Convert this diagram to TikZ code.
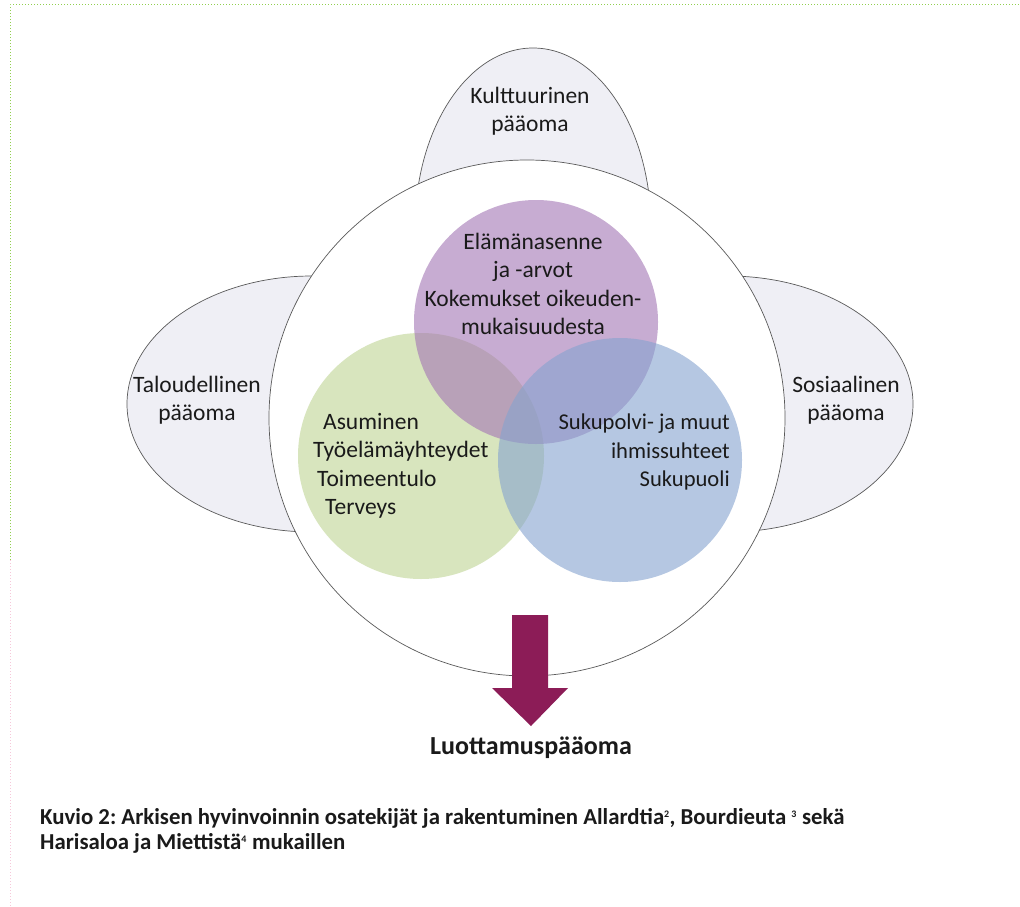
\documentclass[tikz,border=0pt]{standalone}
\usepackage{fontspec}
\setmainfont{Carlito}
\frenchspacing
\definecolor{linegray}{HTML}{5A5A5A}
\definecolor{capfill}{HTML}{EFEFF5}
\definecolor{textc}{HTML}{1A1A1A}
\definecolor{vgreen}{RGB}{190,212,147}
\definecolor{vpurple}{RGB}{163,117,180}
\definecolor{vblue}{RGB}{133,163,207}
\definecolor{arrowc}{HTML}{8C1C57}
\definecolor{bordergreen}{HTML}{92CF50}
\definecolor{borderpink}{HTML}{F6C8DA}
\newcommand{\supnum}[1]{\textsuperscript{\fontsize{10}{10}\selectfont #1}}
\begin{document}
\begin{tikzpicture}[x=1pt,y=-1pt]
\tikzset{
  capital/.style={draw=linegray, fill=capfill, line width=0.7pt},
  venn/.style={fill opacity=0.6},
  vtext/.style={font=\fontsize{23.5}{28.5}\selectfont, text=textc, inner sep=0pt},
}
\useasboundingbox (0,0) rectangle (1020,907);
\fill[white] (0,0) rectangle (1020,907);
% page border
\draw[bordergreen, dotted, line width=1pt] (10,560) -- (10,5) -- (1020,5);
\draw[borderpink, dotted, line width=1pt] (10,560) -- (10,907);
% capital ellipses
\draw[capital] (533,228) ellipse [x radius=118pt, y radius=180pt];
\draw[capital] (312,404) ellipse [x radius=185pt, y radius=128pt];
\draw[capital] (728,404) ellipse [x radius=185pt, y radius=128pt];
% main circle
\draw[draw=linegray, fill=white, line width=0.7pt] (527,418) circle [radius=258pt];
% venn circles
\fill[venn, vgreen] (421,456) circle [radius=123pt];
\fill[venn, vpurple] (536,322) circle [radius=122pt];
\fill[venn, vblue] (620,460) circle [radius=122pt];
% texts
\node[vtext, align=center] (kult) at (530,111) {Kulttuurinen\\pääoma};
\node[vtext, align=center] (talo) at (197,400) {Taloudellinen\\pääoma};
\node[vtext, align=center] (sosi) at (846,400) {Sosiaalinen\\pääoma};
\node[vtext, align=center] (elam) at (533,284) {Elämänasenne\\ja -arvot\\Kokemukset oikeuden-\\mukaisuudesta};
\node[vtext, align=left, anchor=west] (asum) at (313,466) {\hspace*{10pt}Asuminen\\Työelämäyhteydet\\\hspace*{4pt}Toimeentulo\\\hspace*{12pt}Terveys};
\node[vtext, font=\fontsize{22.6}{28.5}\selectfont, align=right, anchor=east] (suku) at (730,452) {Sukupolvi- ja muut\\ihmissuhteet\\Sukupuoli};
% arrow
\fill[arrowc] (512,615) -- (548,615) -- (548,688) -- (568,688) -- (531,726) -- (492,688) -- (512,688) -- cycle;
\node[font=\fontsize{26}{30}\selectfont\bfseries, text=textc, inner sep=0pt] (luot) at (531,748) {Luottamuspääoma};
\node[font=\fontsize{22.8}{25}\selectfont\bfseries, text=textc, inner sep=0pt, align=left, anchor=west] (capt) at (40,831)
 {Kuvio 2: Arkisen hyvinvoinnin osatekijät ja rakentuminen Allardtia\supnum{2}, Bourdieuta \supnum{3} sekä\\Harisaloa ja Miettistä\supnum{4} mukaillen};
\end{tikzpicture}
\end{document}
